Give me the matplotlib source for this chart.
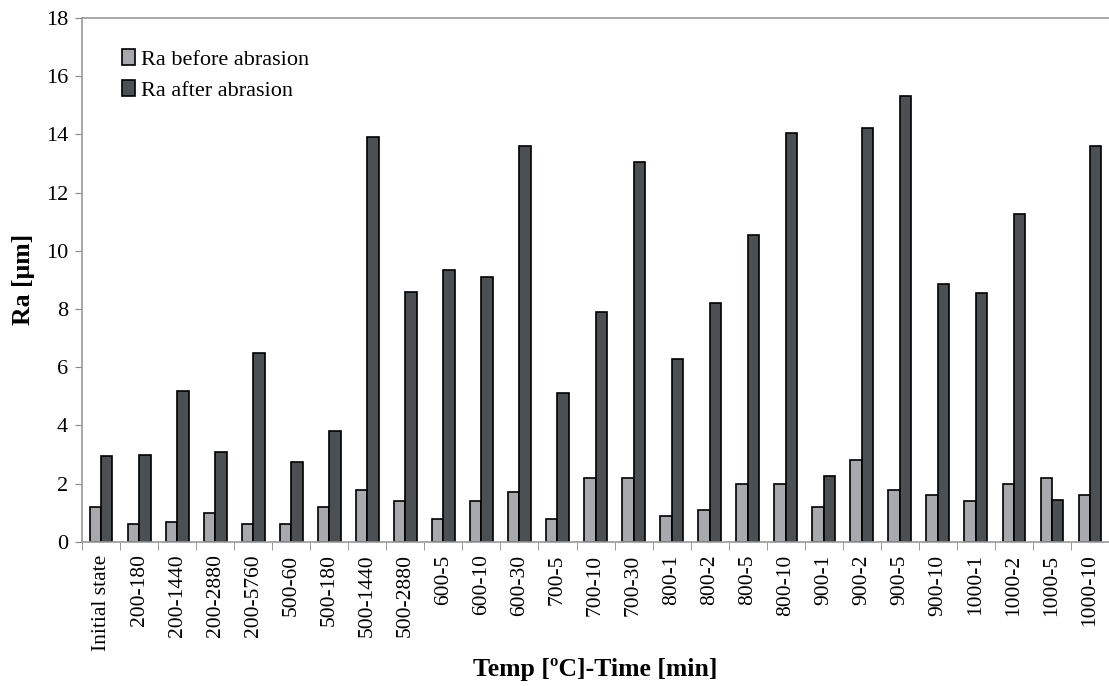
import numpy as np
import matplotlib.pyplot as plt

categories = ['Initial state', '200-180', '200-1440', '200-2880', '200-5760',
              '500-60', '500-180', '500-1440', '500-2880', '600-5', '600-10',
              '600-30', '700-5', '700-10', '700-30', '800-1', '800-2', '800-5',
              '800-10', '900-1', '900-2', '900-5', '900-10', '1000-1', '1000-2',
              '1000-5', '1000-10']
ra_before = [1.2, 0.6, 0.7, 1.0, 0.6, 0.6, 1.2, 1.8, 1.4, 0.8, 1.4, 1.7, 0.8,
             2.2, 2.2, 0.9, 1.1, 2.0, 2.0, 1.2, 2.8, 1.8, 1.6, 1.4, 2.0, 2.2, 1.6]
ra_after = [2.95, 3.0, 5.2, 3.1, 6.5, 2.75, 3.8, 13.9, 8.6, 9.35, 9.1, 13.6, 5.1,
            7.9, 13.05, 6.3, 8.2, 10.55, 14.05, 2.25, 14.2, 15.3, 8.85, 8.55,
            11.25, 1.45, 13.6]

plt.rcParams['font.family'] = ['Liberation Serif', 'DejaVu Serif']

fig = plt.figure(figsize=(11.09, 6.86), dpi=100)
ax = fig.add_axes([0.074, 0.21, 0.926, 0.764])

x = np.arange(len(categories))
w = 0.3
ax.bar(x - w / 2, ra_before, w, color='#a7a9ac', edgecolor='black', linewidth=1.2,
       label='Ra before abrasion')
ax.bar(x + w / 2, ra_after, w, color='#4d5053', edgecolor='black', linewidth=1.2,
       label='Ra after abrasion')

ax.set_xlim(-0.5, len(categories) - 0.5)
ax.set_ylim(0, 18)
ax.set_yticks(np.arange(0, 19, 2))

# category labels between boundary ticks
ax.set_xticks(x)
ax.set_xticklabels(categories, rotation=90, fontsize=15.5)
ax.tick_params(axis='x', length=0, pad=9)
ax.set_xticks(np.arange(-0.5, len(categories)), minor=True)
ax.tick_params(axis='x', which='minor', length=6, color='#888888', direction='out')
ax.tick_params(axis='y', labelsize=16, length=5, color='#888888', direction='out', pad=5)

for s in ['left', 'bottom', 'top']:
    ax.spines[s].set_color('#999999')
    ax.spines[s].set_linewidth(1.2)
ax.spines['right'].set_visible(False)

ax.set_ylabel('Ra [\u03bcm]', fontsize=18.5, fontweight='bold', labelpad=8)
ax.set_xlabel('Temp [\u00baC]-Time [min]', fontsize=18.5, fontweight='bold')
ax.xaxis.set_label_coords(0.5, -0.222)

ax.legend(loc='upper left', bbox_to_anchor=(0.03, 0.958), frameon=False,
          fontsize=16, handlelength=0.6, handleheight=0.75, handletextpad=0.25,
          labelspacing=0.45, borderaxespad=0)

fig.savefig('out.png', dpi=100)
